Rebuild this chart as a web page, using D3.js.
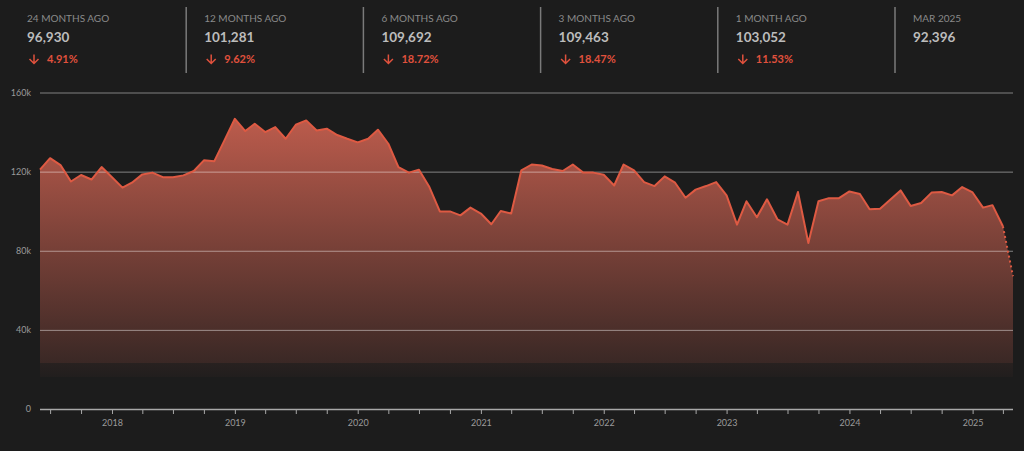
<!DOCTYPE html>
<html>
<head>
<meta charset="utf-8">
<script src="https://cdn.jsdelivr.net/npm/d3@7"></script>
<style>
  html, body { margin: 0; padding: 0; background: #1c1c1c; }
  svg { display: block; font-family: Lato, "Open Sans", sans-serif; }
</style>
</head>
<body>
<div id="viz-container"></div>
<script>
// header stats
const statLabels = ["24 MONTHS AGO", "12 MONTHS AGO", "6 MONTHS AGO", "3 MONTHS AGO", "1 MONTH AGO", "MAR 2025"];
const statValues = [96930, 101281, 109692, 109463, 103052, 92396];
const statChanges = [4.91, 9.62, 18.72, 18.47, 11.53, null];

// monthly series, May 2017 .. Apr 2025 (thousands), last month incomplete
const firstMonth = [2017, 4];
const monthlyValues = [
  121, 126.8, 123.3, 115, 118.3, 116, 122.3, 117.2,
  111.9, 114.4, 118.6, 119.5, 117.2, 117.2, 118.1, 120.3, 125.7, 125.3, 135.8, 146.7,
  140.5, 144.2, 140, 142.5, 136.6, 143.7, 145.9, 140.8, 141.7, 138.5, 136.6, 134.8,
  136.6, 141.2, 134.1, 122.3, 119.5, 121, 112.2, 99.9, 99.9, 97.9, 101.8, 98.8,
  93.4, 100.1, 98.8, 120.6, 123.6, 123.1, 121.3, 120.3, 123.6, 119.5, 119.5, 118.4,
  113, 123.6, 120.6, 114.7, 112.7, 117.6, 114.4, 106.8, 110.9, 112.7, 114.7, 108,
  93.2, 105, 96.93, 106, 95.9, 93.2, 109.7, 83.9, 105, 106.6, 106.6, 110,
  108.7, 101, 101.281, 105.8, 110.5, 102.6, 104.1, 109.4, 109.692, 108, 112.2, 109.463,
  101.8, 103.052, 92.396, 67.1
];
const yTicks = [0, 40000, 80000, 120000, 160000];

const W = 1024, H = 451;
const plotLeft = 40, plotRight = 1013, plotTop = 92.5, plotBottom = 409;

const svg = d3.select("#viz-container")
  .append("svg")
    .attr("width", W)
    .attr("height", H);

svg.append("rect").attr("width", W).attr("height", H).attr("fill", "#1c1c1c");

// ---- header ----
const colX = d3.scaleLinear().domain([0, 1]).range([27, 204.2]);
const stats = svg.append("g").selectAll("g")
  .data(statLabels)
  .enter().append("g")
    .attr("transform", (d, i) => `translate(${colX(i)},0)`);

stats.filter((d, i) => i > 0).append("line")
  .attr("x1", -18).attr("x2", -18)
  .attr("y1", 7).attr("y2", 73)
  .attr("stroke", "#7a7a7a").attr("stroke-width", 1.5);

stats.append("text")
  .attr("y", 22)
  .attr("fill", "#8a8a8a")
  .attr("font-size", 10)
  .text(d => d);

stats.append("text")
  .attr("y", 42)
  .attr("fill", "#bcbcbc")
  .attr("font-size", 13.5)
  .attr("font-weight", 700)
  .text((d, i) => d3.format(",")(statValues[i]));

const chg = stats.filter((d, i) => statChanges[i] != null);
chg.append("path")
  .attr("d", "M7,54.5V63.5M2.5,59L7,63.5L11.5,59")
  .attr("fill", "none")
  .attr("stroke", "#e0513d")
  .attr("stroke-width", 1.5);
chg.append("text")
  .attr("x", 20)
  .attr("y", 63)
  .attr("fill", "#e0513d")
  .attr("font-size", 11)
  .attr("font-weight", 700)
  .text(d => statChanges[statLabels.indexOf(d)].toFixed(2) + "%");

// ---- chart ----
const data = monthlyValues.map((v, i) => ({
  date: new Date(firstMonth[0], firstMonth[1] + 1 + i, 1),
  value: v * 1000
}));

const x = d3.scaleTime()
  .domain(d3.extent(data, d => d.date))
  .range([plotLeft, plotRight]);

const y = d3.scaleLinear()
  .domain([0, 160000])
  .range([plotBottom, plotTop]);

const grad = svg.append("defs").append("linearGradient")
  .attr("id", "fillGrad")
  .attr("gradientUnits", "userSpaceOnUse")
  .attr("x1", 0).attr("x2", 0)
  .attr("y1", 100).attr("y2", plotBottom);
[
  [0, 0.95], [0.6, 0.4], [0.85, 0.17], [0.851, 0.07], [0.895, 0.03], [0.896, 0], [1, 0]
].forEach(s => grad.append("stop")
  .attr("offset", s[0])
  .attr("stop-color", "#cf6352")
  .attr("stop-opacity", s[1]));

svg.append("path")
  .datum(data)
  .attr("fill", "url(#fillGrad)")
  .attr("d", d3.area()
    .x(d => x(d.date))
    .y0(plotBottom)
    .y1(d => y(d.value)));

// grid
const yAxis = svg.append("g")
  .attr("transform", `translate(${plotLeft},0)`)
  .call(d3.axisLeft(y)
    .tickValues(yTicks)
    .tickSize(-(plotRight - plotLeft))
    .tickPadding(9)
    .tickFormat(d => d === 0 ? "0" : d / 1000 + "k"));
yAxis.select(".domain").remove();
yAxis.selectAll(".tick line")
  .attr("stroke", "#ffffff")
  .attr("stroke-opacity", d => d === 0 ? 0 : 0.45);
yAxis.selectAll("text")
  .attr("fill", "#9a9a9a")
  .attr("font-size", 9)
  .attr("font-family", "Lato, sans-serif");

// line: solid for complete months, dotted for the current one
const line = d3.line()
  .x(d => x(d.date))
  .y(d => y(d.value));

svg.append("path")
  .datum(data.slice(0, data.length - 1))
  .attr("fill", "none")
  .attr("stroke", "#de5a43")
  .attr("stroke-width", 2)
  .attr("stroke-linejoin", "round")
  .attr("d", line);

svg.append("path")
  .datum(data.slice(data.length - 2))
  .attr("fill", "none")
  .attr("stroke", "#de5a43")
  .attr("stroke-width", 2)
  .attr("stroke-dasharray", "2,3")
  .attr("d", line);

// x axis
const xAxis = svg.append("g")
  .attr("transform", `translate(0,${plotBottom})`)
  .call(d3.axisBottom(x)
    .ticks(d3.timeMonth.every(3))
    .tickSize(5)
    .tickPadding(6)
    .tickFormat(d => d.getMonth() === 0 ? d3.timeFormat("%Y")(d) : ""));
xAxis.select(".domain")
  .attr("stroke", "#a8a8a8")
  .attr("stroke-width", 1.5)
  .attr("d", `M${plotLeft},0.5H${plotRight}`);
xAxis.selectAll(".tick line").attr("stroke", "#a8a8a8");
xAxis.selectAll("text")
  .attr("fill", "#9a9a9a")
  .attr("font-size", 9)
  .attr("font-family", "Lato, sans-serif");
</script>
</body>
</html>
